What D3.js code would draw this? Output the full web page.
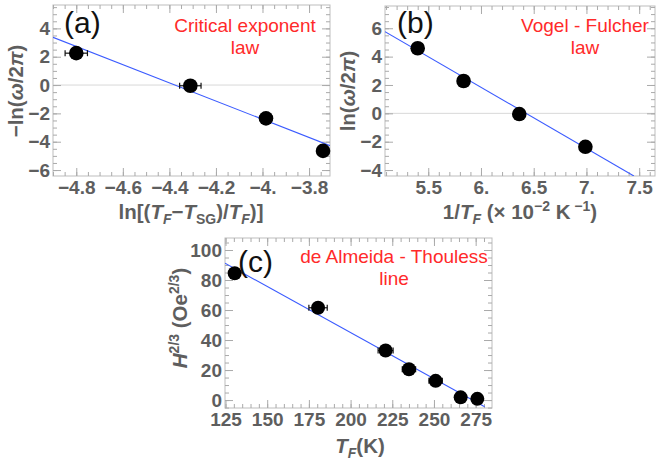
<!DOCTYPE html>
<html><head><meta charset="utf-8">
<script src="https://cdn.jsdelivr.net/npm/d3@7"></script>
<style>
body{margin:0;background:#fff;}
svg{display:block;font-family:"Liberation Sans",Arial,sans-serif;}
</style></head><body>
<svg id="c" width="658" height="463"></svg>
<script>
// ---- data ----
const aX = [-4.80, -4.31, -3.985, -3.74];
const aY = [2.25, -0.05, -2.35, -4.65];
const aErr = [0.048, 0.046, 0.025, 0.008];
const aFit = [[-4.90, 3.37], [-3.71, -4.28]];
const aXTicks = [-4.8, -4.6, -4.4, -4.2, -4.0, -3.8];
const aXLabels = ["−4.8", "−4.6", "−4.4", "−4.2", "−4.", "−3.8"];
const aYTicks = [-6, -4, -2, 0, 2, 4];

const bX = [5.40, 5.835, 6.363, 6.99];
const bY = [4.59, 2.28, -0.05, -2.36];
const bErr = [0.03, 0.035, 0.035, 0.04];
const bFit = [[5.09, 5.76], [7.45, -4.42]];
const bXTicks = [5.5, 6.0, 6.5, 7.0, 7.5];
const bXLabels = ["5.5", "6.", "6.5", "7.", "7.5"];
const bYTicks = [-4, -2, 0, 2, 4, 6];

const cX = [130.5, 180.5, 221, 235, 251, 266, 276];
const cY = [84.5, 61.5, 33, 20.5, 12.8, 1.8, 0.8];
const cErr = [1.5, 5.5, 4.5, 4, 4, 3, 3];
const cFit = [[124.7, 91.2], [280.4, -4.5]];
const cXTicks = [125, 150, 175, 200, 225, 250, 275];
const cYTicks = [0, 20, 40, 60, 80, 100];

const svg = d3.select("#c");
const GRAY = "#5e5e5e";
const FRAME = "#bdbdbd";
const TICKFS = 19;

function panel(o) {
  const x = d3.scaleLinear().domain(o.xd).range([o.x0, o.x1]);
  const y = d3.scaleLinear().domain(o.yd).range([o.y1, o.y0]);
  const g = svg.append("g");
  const id = "clip" + o.key;
  svg.append("clipPath").attr("id", id).append("rect")
    .attr("x", o.x0).attr("y", o.y0).attr("width", o.x1 - o.x0).attr("height", o.y1 - o.y0);

  if (o.grid0) {
    g.append("line").attr("x1", o.x0).attr("x2", o.x1).attr("y1", y(0)).attr("y2", y(0))
      .attr("stroke", "#d8d8d8").attr("stroke-width", 1);
  }
  g.append("rect").attr("x", o.x0).attr("y", o.y0).attr("width", o.x1 - o.x0).attr("height", o.y1 - o.y0)
    .attr("fill", "none").attr("stroke", FRAME).attr("stroke-width", 1);

  const mx = [], my = [];
  const nx0 = Math.ceil(o.xd[0] / o.xm), nx1 = Math.floor(o.xd[1] / o.xm);
  for (let k = nx0; k <= nx1; k++) mx.push(+(k * o.xm).toFixed(6));
  const ny0 = Math.ceil(o.yd[0] / o.ym), ny1 = Math.floor(o.yd[1] / o.ym);
  for (let k = ny0; k <= ny1; k++) my.push(+(k * o.ym).toFixed(6));

  function styleAxis(sel) {
    sel.select(".domain").remove();
    sel.selectAll(".tick line").attr("stroke", "#aaa");
    sel.selectAll("text").attr("fill", GRAY).attr("font-weight", "bold").attr("font-size", TICKFS)
      .attr("font-family", "Liberation Sans, Arial, sans-serif");
  }
  [[d3.axisBottom(x), o.y1], [d3.axisTop(x), o.y0]].forEach(([ax, ty]) => {
    g.append("g").attr("transform", `translate(0,${ty})`)
      .call(ax.tickValues(mx).tickSize(-4).tickFormat("")).call(styleAxis);
  });
  [[d3.axisLeft(y), o.x0], [d3.axisRight(y), o.x1]].forEach(([ax, tx]) => {
    g.append("g").attr("transform", `translate(${tx},0)`)
      .call(ax.tickValues(my).tickSize(-4).tickFormat("")).call(styleAxis);
  });
  g.append("g").attr("transform", `translate(0,${o.y1})`)
    .call(d3.axisBottom(x).tickValues(o.xt).tickSize(-8).tickPadding(5)
      .tickFormat((d, i) => o.xl[i])).call(styleAxis);
  g.append("g").attr("transform", `translate(0,${o.y0})`)
    .call(d3.axisTop(x).tickValues(o.xt).tickSize(-8).tickFormat("")).call(styleAxis);
  g.append("g").attr("transform", `translate(${o.x0},0)`)
    .call(d3.axisLeft(y).tickValues(o.yt).tickSize(-8).tickPadding(3)
      .tickFormat(d => d < 0 ? "−" + Math.abs(d) : String(d))).call(styleAxis);
  g.append("g").attr("transform", `translate(${o.x1},0)`)
    .call(d3.axisRight(y).tickValues(o.yt).tickSize(-8).tickFormat("")).call(styleAxis);

  g.append("path").attr("clip-path", `url(#${id})`)
    .attr("d", d3.line().x(d => x(d[0])).y(d => y(d[1]))(o.fit))
    .attr("stroke", "#3b5bff").attr("stroke-width", 1.1).attr("fill", "none");

  const pts = o.px.map((v, i) => ({ x: v, y: o.py[i], e: o.pe[i] }));
  const eb = g.append("g").attr("stroke", "#111").attr("stroke-width", 1.2);
  pts.forEach(p => {
    eb.append("line").attr("x1", x(p.x - p.e)).attr("x2", x(p.x + p.e)).attr("y1", y(p.y)).attr("y2", y(p.y));
    [p.x - p.e, p.x + p.e].forEach(v => eb.append("line").attr("x1", x(v)).attr("x2", x(v))
      .attr("y1", y(p.y) - 3).attr("y2", y(p.y) + 3));
  });
  g.append("g").selectAll("circle").data(pts).join("circle")
    .attr("cx", d => x(d.x)).attr("cy", d => y(d.y)).attr("r", o.r).attr("fill", "#000");

  g.append("text").attr("x", o.lab[0]).attr("y", o.lab[1]).text(o.name)
    .attr("font-size", 30).attr("fill", "#111").attr("font-family", "Liberation Sans, Arial, sans-serif");
  o.note.forEach((t, i) => g.append("text").attr("x", o.noteX).attr("y", o.noteY + i * 22)
    .attr("text-anchor", "middle").attr("fill", "#ff2a2a").attr("font-size", 19).text(t));
  return { x, y, g };
}

function rich(g, x, y, parts, rot) {
  const t = g.append("text").attr("text-anchor", "middle").attr("fill", GRAY)
    .attr("font-weight", "bold").attr("font-size", 20.5)
    .attr("transform", rot ? `translate(${x},${y}) rotate(-90)` : `translate(${x},${y})`);
  let shift = 0;
  parts.forEach(p => {
    const s = t.append("tspan").text(p.t);
    const target = p.sub ? 5 : p.sup ? -8 : 0;
    if (target !== shift) { s.attr("dy", target - shift); shift = target; }
    if (p.i) s.attr("font-style", "italic");
    if (p.sub || p.sup) s.attr("font-size", 14);
  });
  return t;
}

panel({ key: "a", name: "(a)", x0: 53, x1: 330, y0: 5, y1: 176, xd: [-4.90, -3.71], yd: [-6.42, 5.65],
  xt: aXTicks, xl: aXLabels, yt: aYTicks, xm: 0.05, ym: 0.5, grid0: true,
  px: aX, py: aY, pe: aErr, fit: aFit, r: 7.3, lab: [64, 33],
  note: ["Critical exponent", "law"], noteX: 245, noteY: 32 });
panel({ key: "b", name: "(b)", x0: 385, x1: 655, y0: 6, y1: 176, xd: [5.09, 7.65], yd: [-4.42, 7.57],
  xt: bXTicks, xl: bXLabels, yt: bYTicks, xm: 0.1, ym: 0.5, grid0: true,
  px: bX, py: bY, pe: bErr, fit: bFit, r: 7.3, lab: [397, 33],
  note: ["Vogel - Fulcher", "law"], noteX: 585, noteY: 32 });
panel({ key: "c", name: "(c)", x0: 225, x1: 492, y0: 238, y1: 408, xd: [124.7, 284.8], yd: [-5.3, 108],
  xt: cXTicks, xl: cXTicks.map(String), yt: cYTicks, xm: 5, ym: 5, grid0: false,
  px: cX, py: cY, pe: cErr, fit: cFit, r: 7, lab: [238, 272],
  note: ["de Almeida - Thouless", "line"], noteX: 394, noteY: 263 });

rich(svg, 191, 219, [{ t: "ln[(" }, { t: "T", i: 1 }, { t: "F", i: 1, sub: 1 }, { t: "−" }, { t: "T", i: 1 },
  { t: "SG", sub: 1 }, { t: ")/" }, { t: "T", i: 1 }, { t: "F", i: 1, sub: 1 }, { t: ")]" }]);
rich(svg, 23, 91, [{ t: "−ln(" }, { t: "ω", i: 1 }, { t: "/2" }, { t: "π", i: 1 }, { t: ")" }], true);
rich(svg, 520, 219, [{ t: "1/" }, { t: "T", i: 1 }, { t: "F", i: 1, sub: 1 }, { t: " (× 10" },
  { t: "−2", sup: 1 }, { t: " K" }, { t: " −1", sup: 1 }, { t: ")" }]);
rich(svg, 355, 91, [{ t: "ln(" }, { t: "ω", i: 1 }, { t: "/2" }, { t: "π", i: 1 }, { t: ")" }], true);
rich(svg, 360, 453, [{ t: "T", i: 1 }, { t: "F", i: 1, sub: 1 }, { t: "(K)" }]);
rich(svg, 187, 318, [{ t: "H", i: 1 }, { t: "2/3", sup: 1 }, { t: " (Oe" }, { t: "2/3", sup: 1 }, { t: ")" }], true);
</script></body></html>
